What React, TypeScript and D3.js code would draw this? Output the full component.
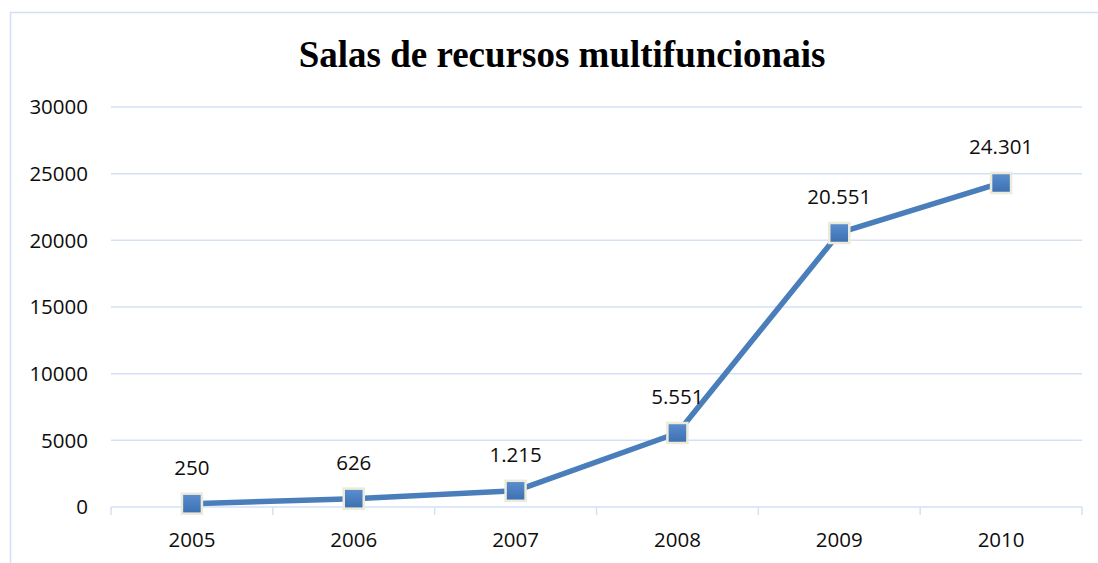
import React, { useEffect, useRef } from 'react';
import * as d3 from 'd3';

// chart data
const years = ['2005', '2006', '2007', '2008', '2009', '2010'];
const salas = [250, 626, 1215, 5551, 20551, 24301];
const dataLabels = ['250', '626', '1.215', '5.551', '20.551', '24.301'];
const yTicks = [0, 5000, 10000, 15000, 20000, 25000, 30000];

const App = () => {
  const svgRef = useRef<SVGSVGElement>(null);

  useEffect(() => {
    const width = 1098;
    const height = 563;
    const margin = { top: 107, right: 16, bottom: 56, left: 111 };
    const font = 'Open Sans, Noto Sans, sans-serif';
    const fs = 20.5;

    const svg = d3.select(svgRef.current);
    svg.selectAll('*').remove();
    svg.attr('width', width).attr('height', height);

    // outer frame
    svg.append('rect')
      .attr('x', 10.5)
      .attr('y', 12.5)
      .attr('width', 1100)
      .attr('height', 600)
      .attr('fill', 'white')
      .attr('stroke', '#d3e0f1')
      .attr('stroke-width', 1.5);

    const x = d3.scaleBand()
      .domain(years)
      .range([margin.left, width - margin.right]);

    const y = d3.scaleLinear()
      .domain([0, 30000])
      .range([height - margin.bottom, margin.top]);

    // gridlines
    svg.append('g')
      .selectAll('line')
      .data(yTicks)
      .enter()
      .append('line')
      .attr('x1', margin.left)
      .attr('x2', width - margin.right)
      .attr('y1', d => y(d))
      .attr('y2', d => y(d))
      .attr('stroke', '#d5e1f3')
      .attr('stroke-width', 1.5);

    // y axis labels
    svg.append('g')
      .selectAll('text')
      .data(yTicks)
      .enter()
      .append('text')
      .attr('x', 88)
      .attr('y', d => y(d))
      .attr('dy', '0.35em')
      .attr('text-anchor', 'end')
      .attr('font-family', font)
      .attr('font-size', fs)
      .attr('fill', '#0d0d0d')
      .text(d => String(d));

    // x axis ticks
    const edges = years.map(d => x(d) as number).concat([width - margin.right]);
    svg.append('g')
      .selectAll('line')
      .data(edges)
      .enter()
      .append('line')
      .attr('x1', d => d)
      .attr('x2', d => d)
      .attr('y1', y(0))
      .attr('y2', y(0) + 8)
      .attr('stroke', '#d5e1f3')
      .attr('stroke-width', 1.5);

    // x axis labels
    svg.append('g')
      .selectAll('text')
      .data(years)
      .enter()
      .append('text')
      .attr('x', d => (x(d) as number) + x.bandwidth() / 2)
      .attr('y', 540)
      .attr('dy', '0.35em')
      .attr('text-anchor', 'middle')
      .attr('font-family', font)
      .attr('font-size', fs)
      .attr('fill', '#0d0d0d')
      .text(d => d);

    // title
    svg.append('text')
      .attr('x', 562)
      .attr('y', 67)
      .attr('text-anchor', 'middle')
      .attr('font-family', 'Liberation Serif, Times New Roman, serif')
      .attr('font-weight', 'bold')
      .attr('font-size', 37)
      .attr('fill', '#000')
      .text('Salas de recursos multifuncionais');

    const pts = years.map((d, i) => ({
      cx: (x(d) as number) + x.bandwidth() / 2,
      cy: y(salas[i]),
      label: dataLabels[i],
    }));

    // the line
    const line = d3.line<{ cx: number; cy: number }>()
      .x(d => d.cx)
      .y(d => d.cy);

    svg.append('path')
      .datum(pts)
      .attr('fill', 'none')
      .attr('stroke', '#4a7ebb')
      .attr('stroke-width', 5.5)
      .attr('stroke-linejoin', 'round')
      .attr('d', line);

    // gradient for the markers
    const grad = svg.append('defs')
      .append('linearGradient')
      .attr('id', 'mk')
      .attr('x1', 0).attr('y1', 0).attr('x2', 0).attr('y2', 1);
    grad.append('stop').attr('offset', '0%').attr('stop-color', '#5b8fd0');
    grad.append('stop').attr('offset', '100%').attr('stop-color', '#3c6fb0');

    // markers
    const size = 20;
    svg.append('g')
      .selectAll('rect')
      .data(pts)
      .enter()
      .append('rect')
      .attr('x', d => d.cx - size / 2)
      .attr('y', d => d.cy - size / 2)
      .attr('width', size)
      .attr('height', size)
      .attr('fill', 'url(#mk)')
      .attr('stroke', '#ecead9')
      .attr('stroke-width', 2.5);

    // data labels
    svg.append('g')
      .selectAll('text')
      .data(pts)
      .enter()
      .append('text')
      .attr('x', d => d.cx)
      .attr('y', d => d.cy - 36)
      .attr('dy', '0.35em')
      .attr('text-anchor', 'middle')
      .attr('font-family', font)
      .attr('font-size', fs)
      .attr('fill', '#0d0d0d')
      .text(d => d.label);
  }, []);

  return (
    <svg ref={svgRef} style={{ position: 'absolute', left: 0, top: 0, display: 'block' }}></svg>
  );
};

export default App;
